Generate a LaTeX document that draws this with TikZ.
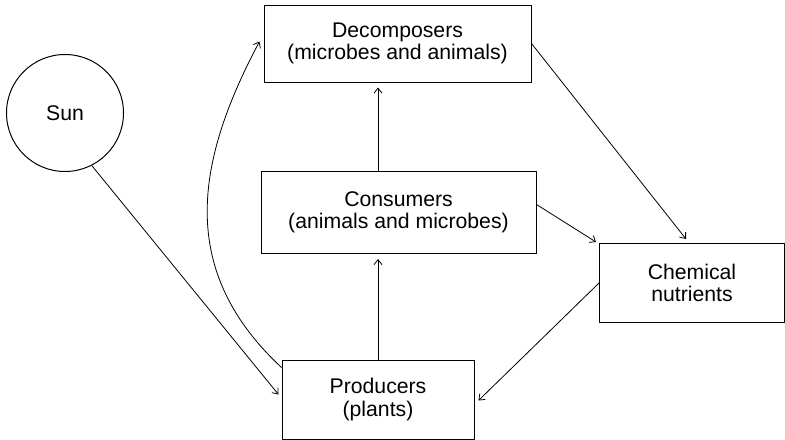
\documentclass[tikz,border=0pt]{standalone}
\usepackage{fontspec}
\setmainfont{Liberation Sans}
\usetikzlibrary{arrows.meta}
\begin{document}
\begin{tikzpicture}[>={Straight Barb[length=5bp,width=8bp]}, line width=0.8bp,
    font=\fontsize{21.3}{22.5}\selectfont,
    box/.style={draw, rectangle, align=center, line width=1bp, inner sep=0pt}]
        \useasboundingbox (0,0) rectangle (785bp,-440bp);

        \node[box, minimum width=267bp, minimum height=77bp] (decomp) at (397.5bp,-43.5bp) {Decomposers\\(microbes and animals)};
        \node[box, minimum width=275bp, minimum height=82bp] (consum) at ([xshift=1bp, yshift=-130bp]decomp.south) {Consumers\\(animals and microbes)};
        \node[box, minimum width=192bp, minimum height=79bp] (prod) at ([xshift=-20.5bp, yshift=-145.5bp]consum.south) {Producers\\(plants)};
        \node[box, minimum width=185bp, minimum height=79bp] (chem) at ([xshift=155.5bp, yshift=-70.5bp]consum.east) {Chemical\\nutrients};

        \node[draw, circle, line width=1bp, minimum size=117bp, inner sep=0pt] (sun) at ([xshift=-198.5bp, yshift=-69.5bp]decomp.west) {Sun};

        \draw [->] (sun.-63) -- ([yshift=5bp, xshift=-3bp]prod.west);
        \draw [->] (prod.north) -- ([yshift=-5bp]prod.north |- consum.south);
        \draw [->] (prod.north |- consum.north) -- ([yshift=-5bp]prod.north |- decomp.south);
        \draw [->] ([yshift=-8bp]prod.north west) to[out=137, in=242, looseness=1.1] ([xshift=-4bp, yshift=2bp]decomp.west);
        \draw [->] (decomp.east) -- ([xshift=-6bp, yshift=4bp]chem.north);
        \draw [->] ([yshift=8bp]consum.east) -- ([xshift=-3bp, yshift=1bp]chem.north west);
        \draw [->] (chem.west) -- ([xshift=4bp, yshift=-1bp]prod.east);

    \end{tikzpicture}
\end{document}
